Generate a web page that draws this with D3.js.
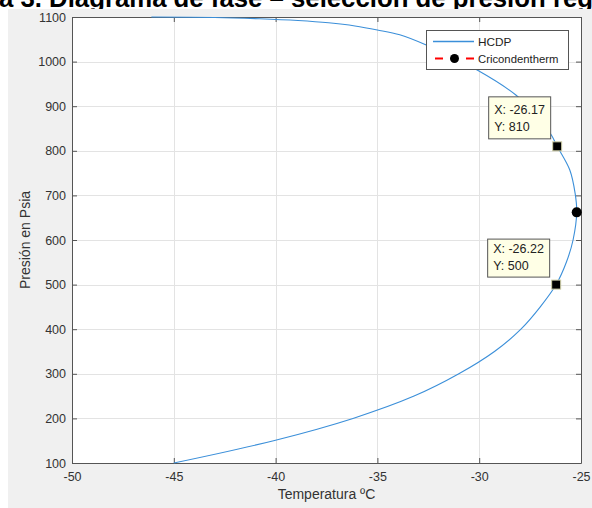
<!DOCTYPE html>
<html>
<head>
<meta charset="utf-8">
<script src="https://cdn.jsdelivr.net/npm/d3@7"></script>
<style>
  body { margin: 0; background: #fff; }
  svg { display: block; }
  text { font-family: "Liberation Sans", Arial, sans-serif; }
</style>
</head>
<body>
<svg id="chart" width="592" height="508"></svg>
<script>
// HCDP curve (temperature ºC, pressure psia)
var hcdpTemp = [-45.0, -40.1, -36.2, -33.2, -31.0, -29.25, -27.95, -27.0, -26.22, -25.72,
                -25.39, -25.21, -25.29, -25.55, -26.17, -26.45, -27.2, -28.2, -30.1, -32.6,
                -33.9, -35.0, -36.1, -37.4, -38.9, -40.8, -43.0, -46.1];
var hcdpPres = [100, 150, 200, 250, 300, 350, 400, 450, 500, 550,
                600, 662, 705, 757, 810, 835, 880, 925, 981, 1037,
                1060, 1071, 1080, 1087, 1092, 1096, 1099, 1100];

var cricoTemp = [-25.21];
var cricoPres = [662];

var tipTemp = [-26.17, -26.22];
var tipPres = [810, 500];

var xTicks = [-50, -45, -40, -35, -30, -25];
var yTicks = [100, 200, 300, 400, 500, 600, 700, 800, 900, 1000, 1100];

var svg = d3.select("#chart");

// cut-off caption of the document above the figure
var title = svg.append("text")
    .attr("y", 7)
    .attr("font-weight", "bold")
    .attr("font-size", 20)
    .attr("fill", "#000");
var pre = title.append("tspan").text("Figur");
var seen = title.append("tspan").text("a 3. Diagrama de fase \u2013 selecci\u00f3n de presi\u00f3n reg");
title.append("tspan").text("ulada");
var fs = 20 * 594 / seen.node().getComputedTextLength();
title.attr("font-size", fs);
title.attr("x", -pre.node().getComputedTextLength() - 1);

// figure background
svg.append("rect")
    .attr("x", 8).attr("y", 9)
    .attr("width", 584).attr("height", 499)
    .attr("fill", "#f0f0f0");

var pLeft = 72, pRight = 581, pTop = 17, pBottom = 463;

var x = d3.scaleLinear().domain([-50, -25]).range([pLeft, pRight]);
var y = d3.scaleLinear().domain([100, 1100]).range([pBottom, pTop]);

svg.append("rect")
    .attr("x", pLeft).attr("y", pTop)
    .attr("width", pRight - pLeft).attr("height", pBottom - pTop)
    .attr("fill", "#fff");

// grid
var grid = svg.append("g").attr("stroke", "#e3e3e3").attr("stroke-width", 1);
grid.selectAll(".gx").data(xTicks).enter().append("line")
    .attr("x1", function(d) { return Math.round(x(d)) + 0.5; })
    .attr("x2", function(d) { return Math.round(x(d)) + 0.5; })
    .attr("y1", pTop).attr("y2", pBottom);
grid.selectAll(".gy").data(yTicks).enter().append("line")
    .attr("y1", function(d) { return Math.round(y(d)) + 0.5; })
    .attr("y2", function(d) { return Math.round(y(d)) + 0.5; })
    .attr("x1", pLeft).attr("x2", pRight);

// axes, matlab style: ticks pointing inward, box on
var plain = function(d) { return String(d); };

function styleAxis(g) {
  g.selectAll("path, line").attr("stroke", "#555");
  g.selectAll("text").attr("fill", "#333").attr("font-size", 12.5)
    .attr("font-family", '"Liberation Sans", Arial, sans-serif');
}

svg.append("g")
    .attr("transform", "translate(0," + pBottom + ")")
    .call(d3.axisBottom(x).tickValues(xTicks).tickFormat(plain)
      .tickSizeInner(-5).tickSizeOuter(0).tickPadding(9))
    .call(styleAxis);
svg.append("g")
    .attr("transform", "translate(" + pLeft + ",0)")
    .call(d3.axisLeft(y).tickValues(yTicks).tickFormat(plain)
      .tickSizeInner(-5).tickSizeOuter(0).tickPadding(6))
    .call(styleAxis);
svg.append("g")
    .attr("transform", "translate(0," + pTop + ")")
    .call(d3.axisTop(x).tickValues(xTicks).tickSizeInner(-5).tickSizeOuter(0).tickFormat(""))
    .call(styleAxis);
svg.append("g")
    .attr("transform", "translate(" + pRight + ",0)")
    .call(d3.axisRight(y).tickValues(yTicks).tickSizeInner(-5).tickSizeOuter(0).tickFormat(""))
    .call(styleAxis);

// axis labels
svg.append("text")
    .attr("x", (pLeft + pRight) / 2).attr("y", 499)
    .attr("text-anchor", "middle")
    .attr("font-size", 14).attr("fill", "#333")
    .text("Temperatura \u00baC");
svg.append("text")
    .attr("transform", "translate(29.5," + (pTop + pBottom) / 2 + ") rotate(-90)")
    .attr("text-anchor", "middle")
    .attr("font-size", 14).attr("fill", "#333")
    .text("Presi\u00f3n en Psia");

// HCDP curve
svg.append("clipPath").attr("id", "plotclip")
  .append("rect").attr("x", pLeft).attr("y", pTop - 1)
    .attr("width", pRight - pLeft).attr("height", pBottom - pTop + 2);

var line = d3.line()
    .x(function(d, i) { return x(hcdpTemp[i]); })
    .y(function(d, i) { return y(hcdpPres[i]); })
    .curve(d3.curveCatmullRom.alpha(0.5));

svg.append("path")
    .datum(hcdpTemp)
    .attr("clip-path", "url(#plotclip)")
    .attr("fill", "none")
    .attr("stroke", "#3b8fd9")
    .attr("stroke-width", 1.1)
    .attr("d", line);

// cricondentherm point
svg.selectAll(".crico").data(cricoTemp).enter().append("circle")
    .attr("cx", function(d) { return x(d); })
    .attr("cy", function(d, i) { return y(cricoPres[i]); })
    .attr("r", 5)
    .attr("fill", "#000");

// data tips
var tipH = [42, 38];
var tips = svg.selectAll(".tip").data(tipTemp).enter().append("g");
tips.append("rect")
    .attr("x", function(d) { return x(d) - 68.5; })
    .attr("y", function(d, i) { return y(tipPres[i]) - 8 - tipH[i] + 0.5; })
    .attr("width", 62).attr("height", function(d, i) { return tipH[i]; })
    .attr("fill", "#ffffe6").attr("stroke", "#555");
tips.append("text")
    .attr("x", function(d) { return x(d) - 63; })
    .attr("y", function(d, i) { return y(tipPres[i]) - 32; })
    .attr("font-size", 12.5).attr("fill", "#222")
    .text(function(d) { return "X: " + d.toFixed(2); });
tips.append("text")
    .attr("x", function(d) { return x(d) - 63; })
    .attr("y", function(d, i) { return y(tipPres[i]) - 15; })
    .attr("font-size", 12.5).attr("fill", "#222")
    .text(function(d, i) { return "Y: " + tipPres[i]; });
tips.append("rect")
    .attr("x", function(d) { return x(d) - 4.5; })
    .attr("y", function(d, i) { return y(tipPres[i]) - 4.5; })
    .attr("width", 9).attr("height", 9)
    .attr("fill", "#000").attr("stroke", "#cfcfa8").attr("stroke-width", 1);

// legend
var legend = svg.append("g").attr("transform", "translate(426,30)");
legend.append("rect")
    .attr("x", 0.5).attr("y", 0.5).attr("width", 142).attr("height", 39)
    .attr("fill", "#fff").attr("stroke", "#555");
legend.append("line")
    .attr("x1", 7).attr("x2", 48).attr("y1", 11.5).attr("y2", 11.5)
    .attr("stroke", "#3b8fd9").attr("stroke-width", 1.4);
legend.append("text").attr("x", 52).attr("y", 15.5)
    .attr("font-size", 11.8).attr("fill", "#222").text("HCDP");
legend.append("line")
    .attr("x1", 9).attr("x2", 48).attr("y1", 28.5).attr("y2", 28.5)
    .attr("stroke", "#ff0000").attr("stroke-width", 2)
    .attr("stroke-dasharray", "8,23");
legend.append("circle").attr("cx", 28.5).attr("cy", 28.5).attr("r", 4.5).attr("fill", "#000");
legend.append("text").attr("x", 52).attr("y", 32.5)
    .attr("font-size", 11.3).attr("fill", "#222").text("Cricondentherm");
</script>
</body>
</html>
